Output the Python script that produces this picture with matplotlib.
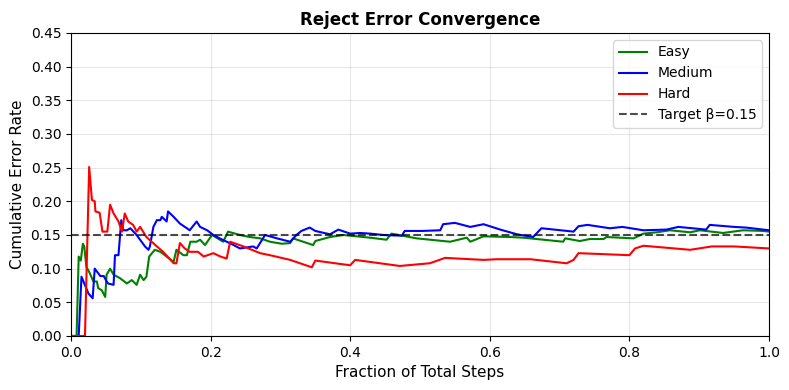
import matplotlib
matplotlib.use("Agg")
import matplotlib.pyplot as plt
import numpy as np

# cumulative reject error rate
easy_x = [0.0, 0.008, 0.011, 0.014, 0.017, 0.019, 0.022, 0.027, 0.032, 0.037, 0.039, 0.044,
          0.049, 0.051, 0.056, 0.061, 0.07, 0.08, 0.087, 0.094, 0.099, 0.104, 0.108, 0.112,
          0.12, 0.128, 0.137, 0.147, 0.151, 0.161, 0.166, 0.171, 0.18, 0.185, 0.192, 0.202,
          0.218, 0.225, 0.242, 0.256, 0.271, 0.285, 0.302, 0.314, 0.318, 0.347, 0.35, 0.371,
          0.39, 0.40, 0.428, 0.452, 0.459, 0.495, 0.543, 0.567, 0.572, 0.591, 0.629, 0.648,
          0.705, 0.708, 0.729, 0.743, 0.763, 0.767, 0.786, 0.806, 0.82, 0.839, 0.858, 0.887,
          0.901, 0.934, 0.963, 0.992, 1.0]
easy_y = [0.0, 0.0, 0.118, 0.112, 0.137, 0.133, 0.103, 0.093, 0.081, 0.081, 0.071, 0.068,
          0.058, 0.091, 0.10, 0.091, 0.086, 0.078, 0.083, 0.076, 0.091, 0.083, 0.088, 0.118,
          0.128, 0.125, 0.118, 0.11, 0.128, 0.12, 0.12, 0.14, 0.14, 0.143, 0.135, 0.15,
          0.14, 0.155, 0.15, 0.147, 0.145, 0.14, 0.137, 0.138, 0.145, 0.135, 0.141, 0.147,
          0.15, 0.149, 0.146, 0.143, 0.152, 0.145, 0.14, 0.146, 0.14, 0.148, 0.147, 0.146,
          0.14, 0.145, 0.141, 0.144, 0.144, 0.147, 0.146, 0.145, 0.152, 0.154, 0.157, 0.154,
          0.157, 0.153, 0.157, 0.156, 0.155]

medium_x = [0.0, 0.011, 0.015, 0.025, 0.031, 0.034, 0.042, 0.047, 0.051, 0.053, 0.061,
            0.063, 0.068, 0.072, 0.075, 0.080, 0.085, 0.094, 0.106, 0.111, 0.113, 0.118,
            0.123, 0.128, 0.13, 0.137, 0.139, 0.147, 0.156, 0.166, 0.17, 0.18, 0.185, 0.195,
            0.204, 0.213, 0.223, 0.233, 0.242, 0.261, 0.266, 0.278, 0.295, 0.314, 0.323, 0.33,
            0.342, 0.35, 0.371, 0.383, 0.40, 0.414, 0.429, 0.447, 0.474, 0.478, 0.503, 0.529,
            0.533, 0.55, 0.572, 0.591, 0.615, 0.639, 0.662, 0.674, 0.72, 0.727, 0.74, 0.772,
            0.79, 0.82, 0.853, 0.87, 0.91, 0.915, 0.95, 0.967, 1.0]
medium_y = [0.0, 0.0, 0.088, 0.063, 0.056, 0.10, 0.089, 0.089, 0.081, 0.078, 0.076,
            0.12, 0.12, 0.172, 0.157, 0.157, 0.16, 0.15, 0.133, 0.128, 0.133, 0.162,
            0.172, 0.172, 0.177, 0.17, 0.185, 0.177, 0.167, 0.16, 0.157, 0.17, 0.162, 0.157,
            0.15, 0.145, 0.14, 0.135, 0.13, 0.133, 0.13, 0.15, 0.145, 0.14, 0.15, 0.156,
            0.161, 0.156, 0.151, 0.158, 0.152, 0.153, 0.152, 0.15, 0.149, 0.156, 0.156, 0.157,
            0.166, 0.168, 0.162, 0.166, 0.158, 0.151, 0.147, 0.16, 0.155, 0.163, 0.165, 0.16,
            0.162, 0.157, 0.158, 0.162, 0.158, 0.165, 0.162, 0.161, 0.157]

hard_x = [0.0, 0.020, 0.026, 0.030, 0.034, 0.035, 0.041, 0.045, 0.052, 0.056, 0.061, 0.068,
          0.073, 0.077, 0.082, 0.089, 0.094, 0.099, 0.108, 0.123, 0.132, 0.147, 0.151, 0.156,
          0.163, 0.170, 0.182, 0.19, 0.204, 0.214, 0.223, 0.228, 0.247, 0.271, 0.285, 0.314,
          0.345, 0.35, 0.40, 0.407, 0.471, 0.514, 0.536, 0.591, 0.61, 0.658, 0.71, 0.72,
          0.727, 0.80, 0.808, 0.82, 0.887, 0.918, 0.95, 1.0]
hard_y = [0.0, 0.0, 0.251, 0.202, 0.20, 0.185, 0.183, 0.155, 0.155, 0.195, 0.182, 0.17,
          0.155, 0.182, 0.17, 0.165, 0.155, 0.162, 0.147, 0.133, 0.125, 0.108, 0.108, 0.138,
          0.13, 0.125, 0.125, 0.118, 0.123, 0.118, 0.115, 0.14, 0.133, 0.123, 0.12, 0.113,
          0.102, 0.112, 0.105, 0.113, 0.104, 0.108, 0.116, 0.113, 0.114, 0.114, 0.108, 0.113,
          0.123, 0.12, 0.13, 0.134, 0.128, 0.133, 0.133, 0.13]

target = 0.15

fig, ax = plt.subplots(figsize=(7.89, 3.9), dpi=100)
ax.plot(easy_x, easy_y, color='green', lw=1.5, label='Easy')
ax.plot(medium_x, medium_y, color='blue', lw=1.5, label='Medium')
ax.plot(hard_x, hard_y, color='red', lw=1.5, label='Hard')
ax.axhline(target, color='black', ls='--', alpha=0.7, lw=1.5, label='Target β=0.15')

ax.set_xlim(0, 1)
ax.set_ylim(0, 0.45)
ax.set_yticks(np.arange(0, 0.451, 0.05))
ax.set_xlabel('Fraction of Total Steps', fontsize=11)
ax.set_ylabel('Cumulative Error Rate', fontsize=11)
ax.set_title('Reject Error Convergence', fontsize=12, fontweight='bold')
ax.grid(True, alpha=0.3)
ax.legend(loc='upper right')

plt.subplots_adjust(left=0.09, right=0.9747, bottom=0.1385, top=0.9154)
plt.savefig('out.png')
